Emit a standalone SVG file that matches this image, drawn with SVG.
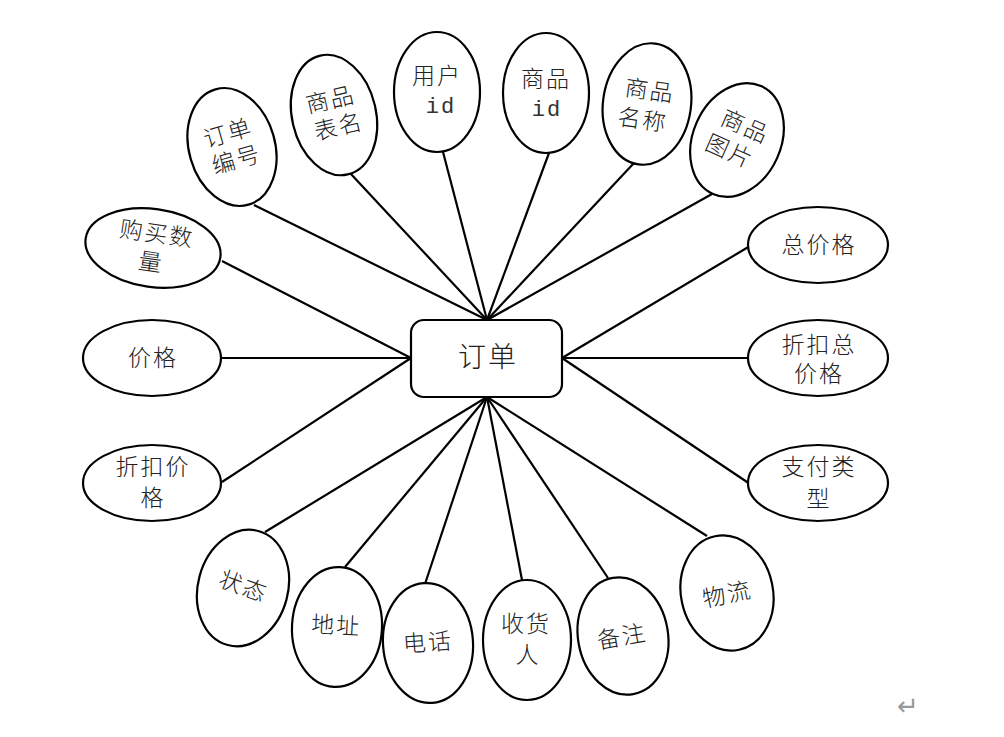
<svg xmlns="http://www.w3.org/2000/svg" width="1004" height="737" viewBox="0 0 1004 737">
<style>
.e{fill:#fff;stroke:#000;stroke-width:2.2}
.t{font-family:"Liberation Serif","Noto Sans CJK SC",serif;font-size:23px;font-weight:300;fill:#222;text-anchor:middle;dominant-baseline:central;letter-spacing:2px}
.m{font-family:"Liberation Mono",monospace;font-weight:normal;font-size:22px;fill:#333}
.c line{stroke:#000;stroke-width:2.2}
</style>
<rect width="1004" height="737" fill="#fff"/>
<g class="c" id="connectors">
<line x1="487" y1="320" x2="254" y2="205"/>
<line x1="487" y1="320" x2="350" y2="173"/>
<line x1="487" y1="320" x2="443" y2="152"/>
<line x1="487" y1="320" x2="549" y2="153"/>
<line x1="487" y1="320" x2="634" y2="163"/>
<line x1="487" y1="320" x2="712" y2="194"/>
<line x1="411" y1="358" x2="222" y2="261"/>
<line x1="411" y1="358" x2="222" y2="358"/>
<line x1="411" y1="358" x2="222" y2="482"/>
<line x1="562" y1="358" x2="750" y2="246"/>
<line x1="562" y1="358" x2="749" y2="358"/>
<line x1="562" y1="358" x2="750" y2="484"/>
<line x1="487" y1="397" x2="265" y2="532"/>
<line x1="487" y1="397" x2="345" y2="567"/>
<line x1="487" y1="397" x2="425" y2="584"/>
<line x1="487" y1="397" x2="522" y2="580"/>
<line x1="487" y1="397" x2="608" y2="578"/>
<line x1="487" y1="397" x2="707" y2="536"/>
</g>
<g id="order">
<rect x="411" y="320" width="151" height="77" rx="13" class="e"/>
<text x="488" y="357" class="t" style="font-size:28px">订单</text>
</g>
<g id="quantity" transform="rotate(8 153 248)">
<ellipse cx="153" cy="248" rx="68" ry="39" class="e"/>
<text x="155" y="234" class="t">购买数</text>
<text x="153" y="263" class="t">量</text>
</g>
<g id="price">
<ellipse cx="152" cy="358" rx="69" ry="38" class="e"/>
<text x="153" y="358" class="t">价格</text>
</g>
<g id="discount-price">
<ellipse cx="152" cy="483" rx="69" ry="38" class="e"/>
<text x="153" y="467" class="t">折扣价</text>
<text x="153" y="498" class="t">格</text>
</g>
<g id="order-no" transform="rotate(-16 232 147)">
<ellipse cx="232" cy="147" rx="43" ry="60" class="e"/>
<text x="232" y="133" class="t">订单</text>
<text x="233" y="161" class="t">编号</text>
</g>
<g id="table-name" transform="rotate(-13 334 115)">
<ellipse cx="334" cy="115" rx="42" ry="61" class="e"/>
<text x="334" y="100" class="t">商品</text>
<text x="336" y="128" class="t">表名</text>
</g>
<g id="user-id">
<ellipse cx="437" cy="92" rx="43" ry="60" class="e"/>
<text x="437" y="76" class="t">用户</text>
<text x="441" y="107" class="t m">id</text>
</g>
<g id="goods-id">
<ellipse cx="546" cy="93" rx="43" ry="60" class="e"/>
<text x="546" y="79" class="t">商品</text>
<text x="547" y="110" class="t m">id</text>
</g>
<g id="goods-name" transform="rotate(8 647 104)">
<ellipse cx="647" cy="104" rx="44" ry="61" class="e"/>
<text x="648" y="91" class="t">商品</text>
<text x="645" y="121" class="t">名称</text>
</g>
<g id="goods-pic" transform="rotate(24 737 140)">
<ellipse cx="737" cy="140" rx="44" ry="59" class="e"/>
<text x="739" y="125" class="t">商品</text>
<text x="735" y="154" class="t">图片</text>
</g>
<g id="total">
<ellipse cx="818" cy="245" rx="70" ry="38" class="e"/>
<text x="819" y="245" class="t">总价格</text>
</g>
<g id="discount-total">
<ellipse cx="818" cy="358" rx="70" ry="38" class="e"/>
<text x="819" y="345" class="t">折扣总</text>
<text x="819" y="374" class="t">价格</text>
</g>
<g id="pay-type">
<ellipse cx="818" cy="483" rx="70" ry="38" class="e"/>
<text x="819" y="467" class="t">支付类</text>
<text x="819" y="499" class="t">型</text>
</g>
<g id="status" transform="rotate(15 243 588)">
<ellipse cx="243" cy="588" rx="45" ry="59" class="e"/>
<text x="243" y="587" class="t" transform="rotate(5 243 587)">状态</text>
</g>
<g id="address" transform="rotate(3 337 627)">
<ellipse cx="337" cy="627" rx="45" ry="60" class="e"/>
<text x="336" y="626" class="t">地址</text>
</g>
<g id="phone" transform="rotate(-4 428 643)">
<ellipse cx="428" cy="643" rx="45" ry="60" class="e"/>
<text x="428" y="643" class="t">电话</text>
</g>
<g id="receiver">
<ellipse cx="527" cy="640" rx="44" ry="60" class="e"/>
<text x="526" y="624" class="t">收货</text>
<text x="528" y="655" class="t">人</text>
</g>
<g id="remark" transform="rotate(-10 623 636)">
<ellipse cx="623" cy="636" rx="45" ry="59" class="e"/>
<text x="622" y="637" class="t">备注</text>
</g>
<g id="logistics" transform="rotate(-12 727 593)">
<ellipse cx="727" cy="593" rx="46" ry="58" class="e"/>
<text x="727" y="595" class="t">物流</text>
</g>
<text x="908" y="706" style="font-family:'DejaVu Sans',sans-serif;font-size:26px;fill:#999;text-anchor:middle;dominant-baseline:central">↵</text>
</svg>
